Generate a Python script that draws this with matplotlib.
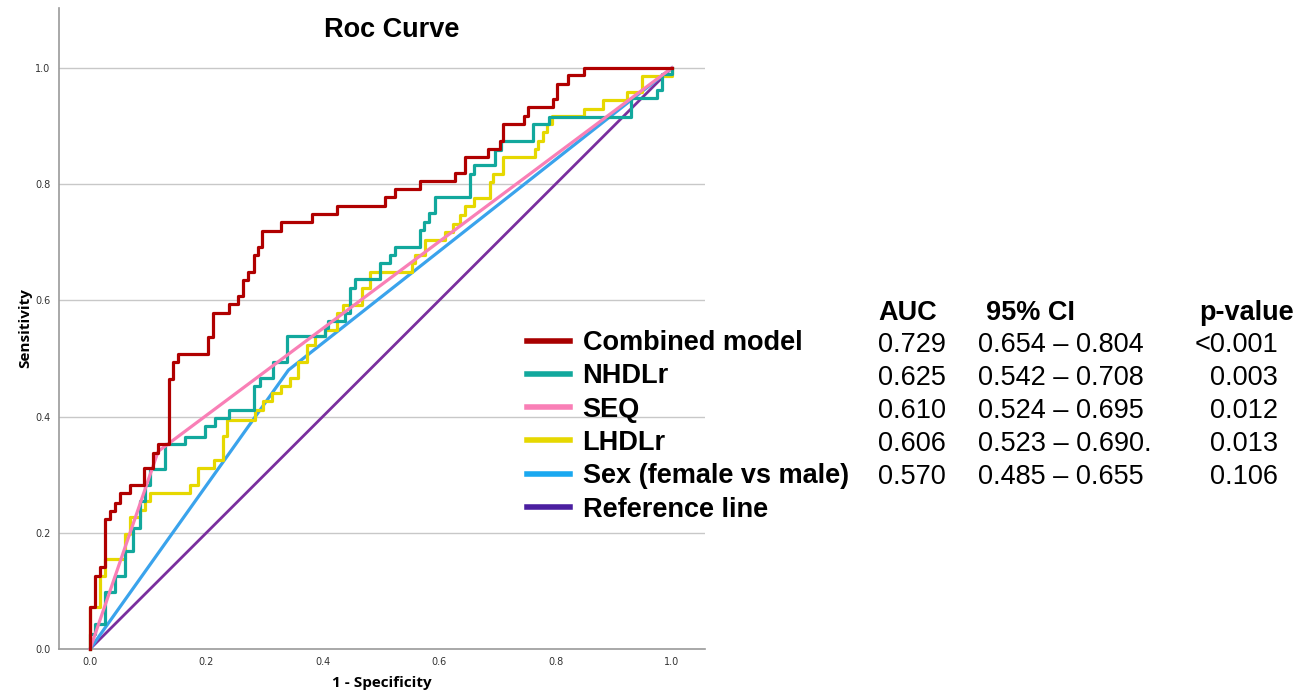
import matplotlib
matplotlib.use("Agg")
import matplotlib.pyplot as plt

# ROC step points (fpr, tpr)
fpr_comb = [0, 0, 0.0086, 0.017, 0.026, 0.034, 0.043, 0.052, 0.069, 0.092,
            0.109, 0.117, 0.135, 0.143, 0.152, 0.203, 0.212, 0.238, 0.255, 0.263,
            0.272, 0.281, 0.289, 0.295, 0.329, 0.381, 0.424, 0.507, 0.524, 0.567,
            0.627, 0.644, 0.684, 0.704, 0.710, 0.745, 0.753, 0.796, 0.803, 0.822,
            0.848, 1.0]
tpr_comb = [0, 0.072, 0.126, 0.141, 0.224, 0.238, 0.252, 0.268, 0.282, 0.311,
            0.338, 0.352, 0.465, 0.493, 0.508, 0.537, 0.578, 0.593, 0.608, 0.635,
            0.649, 0.678, 0.692, 0.720, 0.734, 0.748, 0.762, 0.777, 0.791, 0.805,
            0.819, 0.846, 0.861, 0.875, 0.904, 0.917, 0.932, 0.946, 0.973, 0.988,
            1.0, 1.0]

fpr_nhdl = [0, 0, 0.0086, 0.026, 0.043, 0.060, 0.0745, 0.086, 0.0945, 0.103,
            0.129, 0.163, 0.198, 0.215, 0.238, 0.281, 0.292, 0.314, 0.339, 0.404,
            0.409, 0.438, 0.447, 0.455, 0.498, 0.515, 0.524, 0.567, 0.574, 0.583,
            0.593, 0.653, 0.659, 0.696, 0.707, 0.762, 0.788, 0.929, 0.974, 0.983,
            1.0]
tpr_nhdl = [0, 0.026, 0.043, 0.0975, 0.126, 0.169, 0.209, 0.255, 0.282, 0.310,
            0.352, 0.365, 0.383, 0.397, 0.411, 0.453, 0.466, 0.494, 0.538, 0.552,
            0.564, 0.578, 0.621, 0.636, 0.664, 0.678, 0.692, 0.721, 0.734, 0.750,
            0.777, 0.818, 0.833, 0.859, 0.875, 0.904, 0.916, 0.948, 0.962, 0.990,
            1.0]

fpr_lhdl = [0, 0, 0.017, 0.026, 0.060, 0.069, 0.086, 0.0945, 0.103, 0.172, 0.186,
            0.213, 0.229, 0.235, 0.283, 0.298, 0.312, 0.329, 0.344, 0.358, 0.372,
            0.387, 0.404, 0.424, 0.435, 0.467, 0.481, 0.553, 0.558, 0.576, 0.610,
            0.624, 0.635, 0.644, 0.659, 0.687, 0.693, 0.709, 0.765, 0.770, 0.778,
            0.786, 0.793, 0.848, 0.881, 0.922, 0.948, 1.0]
tpr_lhdl = [0, 0.072, 0.126, 0.155, 0.198, 0.227, 0.240, 0.254, 0.268, 0.282, 0.311,
            0.325, 0.367, 0.394, 0.411, 0.426, 0.440, 0.453, 0.466, 0.494, 0.523,
            0.538, 0.549, 0.578, 0.592, 0.621, 0.649, 0.664, 0.678, 0.704, 0.718,
            0.732, 0.747, 0.762, 0.776, 0.804, 0.818, 0.847, 0.861, 0.875, 0.889,
            0.903, 0.917, 0.930, 0.944, 0.958, 0.986, 1.0]

fpr_seq = [0, 0.117, 1.0]
tpr_seq = [0, 0.340, 1.0]

fpr_sex = [0, 0.341, 1.0]
tpr_sex = [0, 0.480, 1.0]

fpr_ref = [0, 1.0]
tpr_ref = [0, 1.0]

labels = ["Combined model", "NHDLr", "SEQ", "LHDLr", "Sex (female vs male)", "Reference line"]
colors = ["#b00000", "#12a89d", "#f97fb6", "#e6d800", "#3aa3ec", "#7a2f9e"]
legend_colors = ["#a80000", "#12a89d", "#f97fb6", "#e6d800", "#1aa8f0", "#4b1fa0"]

auc = ["0.729", "0.625", "0.610", "0.606", "0.570"]
ci = ["0.654 \u2013 0.804", "0.542 \u2013 0.708", "0.524 \u2013 0.695",
      "0.523 \u2013 0.690.", "0.485 \u2013 0.655"]
pval = ["<0.001", "0.003", "0.012", "0.013", "0.106"]

W, H = 1306, 694
fig = plt.figure(figsize=(W / 100, H / 100), dpi=100)
ax = fig.add_axes([59 / W, 1 - 649 / H, (705 - 59) / W, (649 - 8) / H])

ax.set_xlim(-0.0533, 1.0567)
ax.set_ylim(0, 1.103)

for y in [0.2, 0.4, 0.6, 0.8, 1.0]:
    ax.axhline(y, color="#c8c8c8", lw=1.0, zorder=0)

lw = 2.3
ax.plot(fpr_ref, tpr_ref, color=colors[5], lw=2.0, zorder=2, clip_on=False)
ax.plot(fpr_sex, tpr_sex, color=colors[4], lw=lw, zorder=3, clip_on=False)
ax.plot(fpr_lhdl, tpr_lhdl, color=colors[3], lw=lw, drawstyle="steps-post", zorder=4, clip_on=False)
ax.plot(fpr_nhdl, tpr_nhdl, color=colors[1], lw=lw, drawstyle="steps-post", zorder=5, clip_on=False)
ax.plot(fpr_seq, tpr_seq, color=colors[2], lw=lw, zorder=6, clip_on=False)
ax.plot(fpr_comb, tpr_comb, color=colors[0], lw=lw, drawstyle="steps-post", zorder=7, clip_on=False)

for s in ["top", "right"]:
    ax.spines[s].set_visible(False)
for s in ["left", "bottom"]:
    ax.spines[s].set_color("#9a9a9a")
    ax.spines[s].set_linewidth(1.2)

ticks = [0.0, 0.2, 0.4, 0.6, 0.8, 1.0]
ax.set_xticks(ticks)
ax.set_yticks(ticks)
ax.set_xticklabels([f"{t:.1f}" for t in ticks])
ax.set_yticklabels([f"{t:.1f}" for t in ticks])
ax.tick_params(length=0, labelsize=7, labelcolor="#333333", pad=6)

ax.set_xlabel("1 - Specificity", fontsize=11, fontweight="bold", family="Open Sans", labelpad=6)
ax.set_ylabel("Sensitivity", fontsize=11, fontweight="bold", family="Open Sans", labelpad=2)

ax.text(392 / W, 1 - 30 / H, "Roc Curve", transform=fig.transFigure, ha="center", va="center",
        fontsize=19.5, fontweight="bold", family="Liberation Sans")

# legend
handles = [plt.Line2D([], [], color=c, lw=4) for c in legend_colors]
leg = fig.legend(handles, labels, loc="upper left", bbox_to_anchor=(527 / W, 1 - 330 / H),
                 frameon=False, borderpad=0, borderaxespad=0, handlelength=1.6,
                 handletextpad=0.45, labelspacing=0.27,
                 prop={"family": "Liberation Sans", "weight": "bold", "size": 19.5})

# table
tfont = {"family": "Liberation Sans", "size": 19.5}
fig.text(878 / W, 1 - 313 / H, "AUC", ha="left", va="center", fontweight="bold", **tfont)
fig.text(986 / W, 1 - 313 / H, "95% CI", ha="left", va="center", fontweight="bold", **tfont)
fig.text(1294 / W, 1 - 313 / H, "p-value", ha="right", va="center", fontweight="bold", **tfont)
for i in range(len(auc)):
    y = 1 - (345 + i * 33) / H
    fig.text(878 / W, y, auc[i], ha="left", va="center", **tfont)
    fig.text(978 / W, y, ci[i], ha="left", va="center", **tfont)
    fig.text(1278 / W, y, pval[i], ha="right", va="center", **tfont)

fig.savefig("out.png", dpi=100)
